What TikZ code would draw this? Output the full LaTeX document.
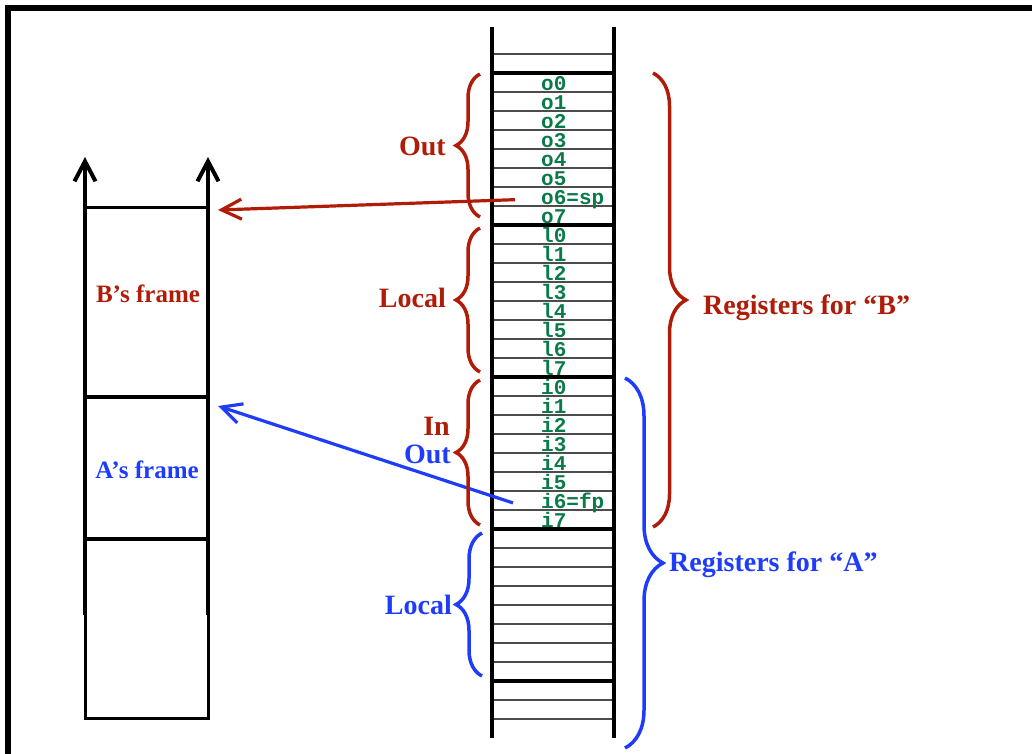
\documentclass[tikz,border=0pt]{standalone}
\usepackage{fontspec}
\setmainfont{Liberation Serif}
\setmonofont{Liberation Mono}
\usetikzlibrary{arrows.meta,decorations.pathreplacing}

\definecolor{regred}{RGB}{175,28,8}
\definecolor{regblue}{RGB}{30,60,250}
\definecolor{reggreen}{RGB}{10,122,72}

\tikzset{
    regname/.style={font=\fontsize{21}{21}\selectfont\ttfamily\bfseries, text=reggreen, anchor=base west, inner sep=0pt},
    bracelabel/.style={font=\fontsize{28}{30}\selectfont\bfseries, inner sep=0pt},
    framelabel/.style={font=\fontsize{25}{27}\selectfont\bfseries, inner sep=0pt},
    regbrace/.style={decorate, decoration={brace, amplitude=#1}, line width=3.5pt},
    ptrarrow/.style={line width=3.2pt, -{Straight Barb[length=20pt,width=20pt]}},
}

\begin{document}
\begin{tikzpicture}[x=1pt,y=-1pt]
        \def\rowh{19}
        \def\stackL{492}
        \def\stackR{614}

        \useasboundingbox (0,0) rectangle (1032,753);

        % Outer border
        \draw[line width=5.5pt] (8,8) rectangle (1050,770);

        % Register window: thin row lines
        \foreach \k in {0,...,35} {
            \pgfmathsetmacro\ypos{54 + \k * \rowh}
            \draw[gray!60!black, line width=1.5pt] (\stackL,\ypos) -- (\stackR,\ypos);
        }
        % Window boundaries
        \foreach \ypos in {73,225,377,529,681} {
            \draw[line width=4pt] (\stackL,\ypos) -- (\stackR,\ypos);
        }
        \draw[line width=4pt] (\stackL,27) -- (\stackL,738);
        \draw[line width=4pt] (\stackR,27) -- (\stackR,738);

        % Register names
        \foreach \name/\txt [count=\k from 0] in {
            o0/o0, o1/o1, o2/o2, o3/o3, o4/o4, o5/o5, o6/o6=sp, o7/o7,
            l0/l0, l1/l1, l2/l2, l3/l3, l4/l4, l5/l5, l6/l6, l7/l7,
            i0/i0, i1/i1, i2/i2, i3/i3, i4/i4, i5/i5, i6/i6=fp, i7/i7
        } {
            \pgfmathsetmacro\ypos{73 + (\k + 1) * \rowh - 1.5}
            \node[regname] (\name) at (541,\ypos) {\txt};
        }

        % Stack frames
        \draw[line width=3pt] (85,207) rectangle (208,718);
        \draw[line width=3.5pt] (85,397) -- (208,397);
        \draw[line width=4pt] (85,539) -- (208,539);
        \draw[line width=4pt, -{Straight Barb[length=20pt,width=21pt]}] (85,615) -- (85,157);
        \draw[line width=4pt, -{Straight Barb[length=20pt,width=21pt]}] (208,615) -- (208,157);
        \node[framelabel, text=regred] (bframe) at (148,294) {B's frame};
        \node[framelabel, text=regblue] (aframe) at (147,470) {A's frame};
        \coordinate (btop) at (218,210);
        \coordinate (atop) at (218,406);

        % Pointers
        \draw[ptrarrow, regred] ([xshift=-26pt]o6.west) -- (btop);
        \draw[ptrarrow, regblue] ([xshift=-28pt]i6.west) -- (atop);

        % Braces for the windows
        \draw[regbrace=24pt, regred] (480,217) -- (480,74);
        \draw[regbrace=24pt, regred] (480,372) -- (480,228);
        \draw[regbrace=24pt, regred] (480,525) -- (480,380);
        \draw[regbrace=26pt, regblue] (482,676) -- (482,533);
        \draw[regbrace=33pt, regred] (653,73) -- (653,527);
        \draw[regbrace=38pt, regblue] (625,378) -- (625,748);

        % Brace labels
        \node[bracelabel, text=regred, anchor=east] (outb) at (446,146) {Out};
        \node[bracelabel, text=regred, anchor=east] (localb) at (446,298) {Local};
        \node[bracelabel, text=regred, anchor=east] (inb) at (450,426) {In};
        \node[bracelabel, text=regblue, anchor=east] (outa) at (451,454) {Out};
        \node[bracelabel, text=regblue, anchor=east] (locala) at (452,605) {Local};
        \node[bracelabel, text=regred, anchor=base west] (regsb) at (703,314) {Registers for ``B''};
        \node[bracelabel, text=regblue, anchor=base west] (regsa) at (669,571) {Registers for ``A''};
\end{tikzpicture}
\end{document}
